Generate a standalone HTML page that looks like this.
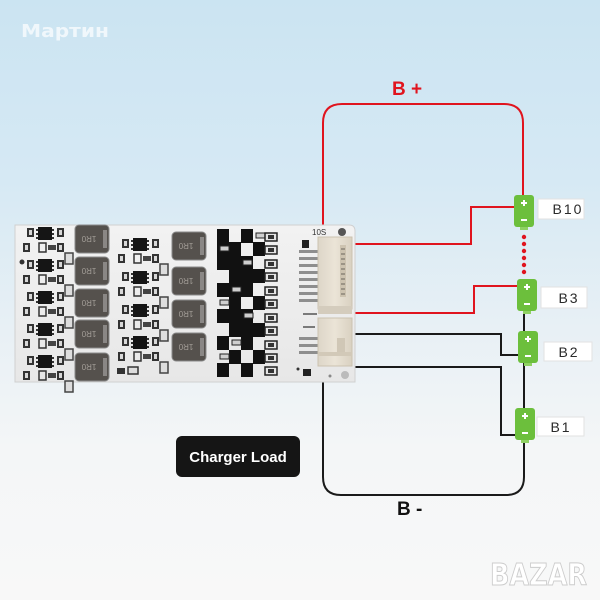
<!DOCTYPE html>
<html><head><meta charset="utf-8"><style>
html,body{margin:0;padding:0;width:600px;height:600px;overflow:hidden;background:#f7f7f7}
svg{display:block}
</style></head><body>
<svg width="600" height="600" viewBox="0 0 600 600" xmlns="http://www.w3.org/2000/svg">
<defs>
<linearGradient id="bg" x1="0" y1="0" x2="0" y2="1">
<stop offset="0" stop-color="#cbe4f2"/>
<stop offset="0.3" stop-color="#d6e9f4"/>
<stop offset="0.55" stop-color="#e8f0f5"/>
<stop offset="0.75" stop-color="#f4f6f7"/>
<stop offset="1" stop-color="#f8f8f8"/>
</linearGradient>
<linearGradient id="pcb" x1="0" y1="0" x2="0" y2="1">
<stop offset="0" stop-color="#f2f2f2"/>
<stop offset="1" stop-color="#e7e7e7"/>
</linearGradient>
<linearGradient id="conn" x1="0" y1="0" x2="1" y2="0">
<stop offset="0" stop-color="#ddd6c8"/>
<stop offset="0.5" stop-color="#ebe4d7"/>
<stop offset="1" stop-color="#d9d1c1"/>
</linearGradient>
<g id="ind">
<rect x="0" y="0" width="34" height="28" rx="4" fill="#55514d" stroke="#8a8a8a" stroke-width="1"/>
<rect x="28" y="5" width="4" height="18" fill="#8a8785"/>
<text x="14" y="13" transform="rotate(180 14 13)" font-family="Liberation Sans, sans-serif" font-size="8" fill="#a39e98" text-anchor="middle" dominant-baseline="middle">1R0</text>
</g>
<g id="chip">
<rect x="0" y="0" width="7" height="9" fill="#333"/>
<rect x="2" y="2" width="3" height="5" fill="#d8d8d8"/>
</g>
<g id="ic">
<rect x="0" y="0" width="14" height="13" fill="#151515"/>
<rect x="-2" y="2" width="2" height="2" fill="#333"/><rect x="-2" y="6" width="2" height="2" fill="#333"/><rect x="-2" y="10" width="2" height="2" fill="#333"/>
<rect x="14" y="2" width="2" height="2" fill="#333"/><rect x="14" y="6" width="2" height="2" fill="#333"/><rect x="14" y="10" width="2" height="2" fill="#333"/>
</g>
<g id="unit">
<use href="#chip" x="4" y="1"/>
<use href="#ic" x="15" y="0"/>
<use href="#chip" x="34" y="1"/>
<use href="#chip" x="0" y="16"/>
<rect x="16" y="16" width="7" height="9" fill="none" stroke="#333" stroke-width="1.5"/>
<rect x="25" y="18" width="8" height="5" fill="#444"/>
<use href="#chip" x="34" y="16"/>
<rect x="42" y="26" width="8" height="11" fill="#ddd" stroke="#444" stroke-width="1.5"/>
</g>
<g id="res">
<rect x="0" y="0" width="12" height="8" fill="#e4e4e4" stroke="#222" stroke-width="1.5"/>
<rect x="3" y="2" width="6" height="4" fill="#333"/>
</g>
<g id="bat">
<rect x="0" y="0" width="20" height="32" rx="3" fill="#6cbf3c"/>
<rect x="6" y="32" width="8" height="3" fill="#8fd163"/>
<path d="M10 5v6M7 8h6" stroke="#fff" stroke-width="2"/>
<path d="M7 25h6" stroke="#fff" stroke-width="2"/>
</g>
</defs>

<rect x="0" y="0" width="600" height="600" fill="url(#bg)"/>

<!-- watermark -->
<text x="21" y="37" font-family="DejaVu Sans, Liberation Sans, sans-serif" font-weight="bold" font-size="18" fill="#ffffff" fill-opacity="0.7" textLength="88" lengthAdjust="spacingAndGlyphs">Мартин</text>

<!-- B+ -->
<text x="392" y="95" font-family="Liberation Sans, sans-serif" font-weight="bold" font-size="19" fill="#e0141e">B +</text>

<!-- red wires -->
<g fill="none" stroke="#e0141e" stroke-width="2">
<path d="M323 226V123Q323 104 342 104H504Q523 104 523 123V195"/>
<path d="M354 244H471V207H515"/>
<path d="M354 313H474V286H517"/>
</g>
<!-- dotted -->
<g fill="#e0141e">
<circle cx="524" cy="237" r="2.2"/><circle cx="524" cy="244" r="2.2"/><circle cx="524" cy="251" r="2.2"/>
<circle cx="524" cy="258" r="2.2"/><circle cx="524" cy="265" r="2.2"/><circle cx="524" cy="272" r="2.2"/>
</g>

<!-- black wires -->
<g fill="none" stroke="#1a1a1a" stroke-width="2">
<path d="M524 312V477Q524 495 506 495H341Q323 495 323 477V382"/>
<path d="M354 334H501V355H518"/>
<path d="M354 367H501V435H515"/>
</g>

<!-- batteries -->
<use href="#bat" x="514" y="195"/>
<use href="#bat" x="517" y="279"/>
<use href="#bat" x="518" y="331"/>
<use href="#bat" x="515" y="408"/>

<!-- labels -->
<g font-family="Liberation Sans, sans-serif" font-size="14" fill="#2a2a2a" text-anchor="middle" letter-spacing="2">
<rect x="538" y="199" width="46" height="20" fill="#fff" stroke="#e2e2e2" stroke-width="1"/>
<text x="568" y="214">B10</text>
<rect x="541" y="287" width="46" height="21" fill="#fff" stroke="#e2e2e2" stroke-width="1"/>
<text x="569" y="303">B3</text>
<rect x="544" y="342" width="48" height="19" fill="#fff" stroke="#e2e2e2" stroke-width="1"/>
<text x="569" y="357">B2</text>
<rect x="537" y="417" width="47" height="19" fill="#fff" stroke="#e2e2e2" stroke-width="1"/>
<text x="561" y="432">B1</text>
</g>

<!-- PCB -->
<path d="M15 225H349Q355 225 355 231V382H15Z" fill="url(#pcb)" stroke="#d0d0d0" stroke-width="1"/>

<!-- left units -->
<use href="#unit" x="23" y="227"/>
<use href="#unit" x="23" y="259"/>
<use href="#unit" x="23" y="291"/>
<use href="#unit" x="23" y="323"/>
<use href="#unit" x="23" y="355"/>
<circle cx="22" cy="262" r="2.5" fill="#333"/>

<!-- col1 inductors -->
<use href="#ind" x="75" y="225"/>
<use href="#ind" x="75" y="257"/>
<use href="#ind" x="75" y="289"/>
<use href="#ind" x="75" y="320"/>
<use href="#ind" x="75" y="353"/>

<!-- middle units -->
<use href="#unit" x="118" y="238"/>
<use href="#unit" x="118" y="271"/>
<use href="#unit" x="118" y="304"/>
<use href="#unit" x="118" y="336"/>
<rect x="117" y="368" width="8" height="6" fill="#333"/>
<rect x="128" y="367" width="10" height="7" fill="#ddd" stroke="#333" stroke-width="1.5"/>

<!-- col2 inductors -->
<use href="#ind" x="172" y="232"/>
<use href="#ind" x="172" y="267"/>
<use href="#ind" x="172" y="300"/>
<use href="#ind" x="172" y="333"/>

<!-- MOSFET checkerboard -->
<g fill="#111">
<rect x="217" y="229" width="12" height="14"/><rect x="241" y="229" width="12" height="14"/>
<rect x="229" y="242" width="12" height="14"/><rect x="253" y="242" width="12" height="14"/><rect x="217" y="242" width="12" height="14"/>
<rect x="217" y="256" width="12" height="14"/><rect x="241" y="256" width="12" height="14"/><rect x="229" y="256" width="12" height="14"/>
<rect x="229" y="269" width="12" height="14"/><rect x="253" y="269" width="12" height="14"/><rect x="241" y="269" width="12" height="14"/>
<rect x="217" y="283" width="12" height="14"/><rect x="241" y="283" width="12" height="14"/><rect x="229" y="283" width="12" height="14"/>
<rect x="229" y="296" width="12" height="14"/><rect x="253" y="296" width="12" height="14"/>
<rect x="217" y="309" width="12" height="14"/><rect x="241" y="309" width="12" height="14"/><rect x="229" y="309" width="12" height="14"/>
<rect x="229" y="323" width="12" height="14"/><rect x="253" y="323" width="12" height="14"/><rect x="241" y="323" width="12" height="14"/>
<rect x="217" y="336" width="12" height="14"/><rect x="241" y="336" width="12" height="14"/>
<rect x="229" y="350" width="12" height="14"/><rect x="253" y="350" width="12" height="14"/>
<rect x="217" y="363" width="12" height="14"/><rect x="241" y="363" width="12" height="14"/>
</g>
<g fill="#cfcfcf" stroke="#222" stroke-width="1">
<rect x="220" y="246" width="9" height="5"/><rect x="243" y="260" width="9" height="5"/>
<rect x="232" y="287" width="9" height="5"/><rect x="220" y="300" width="9" height="5"/>
<rect x="244" y="313" width="9" height="5"/><rect x="232" y="340" width="9" height="5"/>
<rect x="220" y="354" width="9" height="5"/><rect x="256" y="233" width="9" height="5"/>
</g>

<!-- resistor column -->
<use href="#res" x="265" y="233"/>
<use href="#res" x="265" y="246"/>
<use href="#res" x="265" y="260"/>
<use href="#res" x="265" y="273"/>
<use href="#res" x="265" y="287"/>
<use href="#res" x="265" y="300"/>
<use href="#res" x="265" y="314"/>
<use href="#res" x="265" y="327"/>
<use href="#res" x="265" y="341"/>
<use href="#res" x="265" y="354"/>
<use href="#res" x="265" y="367"/>

<!-- connector area -->
<text x="312" y="235" font-family="Liberation Sans, sans-serif" font-size="8" fill="#333">10S</text>
<circle cx="342" cy="232" r="4" fill="#555"/>
<rect x="302" y="240" width="7" height="8" fill="#222"/>
<g fill="#8e8e8e">
<rect x="299" y="250" width="22" height="3"/><rect x="299" y="257" width="22" height="3"/>
<rect x="299" y="264" width="22" height="3"/><rect x="299" y="271" width="22" height="3"/>
<rect x="299" y="278" width="22" height="3"/><rect x="299" y="285" width="22" height="3"/>
<rect x="299" y="292" width="22" height="3"/><rect x="299" y="299" width="22" height="3"/>
<rect x="299" y="337" width="22" height="3"/><rect x="299" y="344" width="22" height="3"/>
<rect x="299" y="351" width="22" height="3"/>
</g>
<path d="M303 314h14M303 327h12" stroke="#555" stroke-width="1.5"/>
<rect x="318" y="237" width="34" height="72" fill="url(#conn)" stroke="#cbc2b0" stroke-width="1"/>
<rect x="340" y="245" width="6" height="52" fill="#cdc3b0"/>
<g stroke="#6b655c" stroke-width="1">
<path d="M341 249h4M341 254h4M341 259h4M341 264h4M341 269h4M341 274h4M341 279h4M341 284h4M341 289h4M341 294h4"/>
</g>
<rect x="318" y="306" width="34" height="8" fill="#d4ccbd"/>
<rect x="318" y="318" width="34" height="48" fill="url(#conn)" stroke="#cbc2b0" stroke-width="1"/>
<rect x="337" y="338" width="8" height="16" fill="#d0c7b6"/>
<rect x="318" y="352" width="34" height="4" fill="#d2c9b8"/>
<rect x="303" y="369" width="8" height="7" fill="#222"/>
<circle cx="298" cy="369" r="1.5" fill="#333"/>
<circle cx="345" cy="375" r="4" fill="#bbb"/>
<circle cx="330" cy="376" r="1.5" fill="#888"/>

<!-- Charger Load -->
<rect x="176" y="436" width="124" height="41" rx="6" fill="#151515"/>
<text x="238" y="462" font-family="Liberation Sans, sans-serif" font-weight="bold" font-size="15" fill="#ffffff" text-anchor="middle">Charger Load</text>

<!-- B- -->
<text x="397" y="515" font-family="Liberation Sans, sans-serif" font-weight="bold" font-size="19" fill="#111">B -</text>

<!-- bazar logo -->
<text x="490" y="585" font-family="DejaVu Sans, Liberation Sans, sans-serif" font-weight="bold" font-size="30" fill="#ffffff" stroke="#cccccc" stroke-width="1" textLength="97" lengthAdjust="spacingAndGlyphs">BAZAR</text>
</svg>
</body></html>
